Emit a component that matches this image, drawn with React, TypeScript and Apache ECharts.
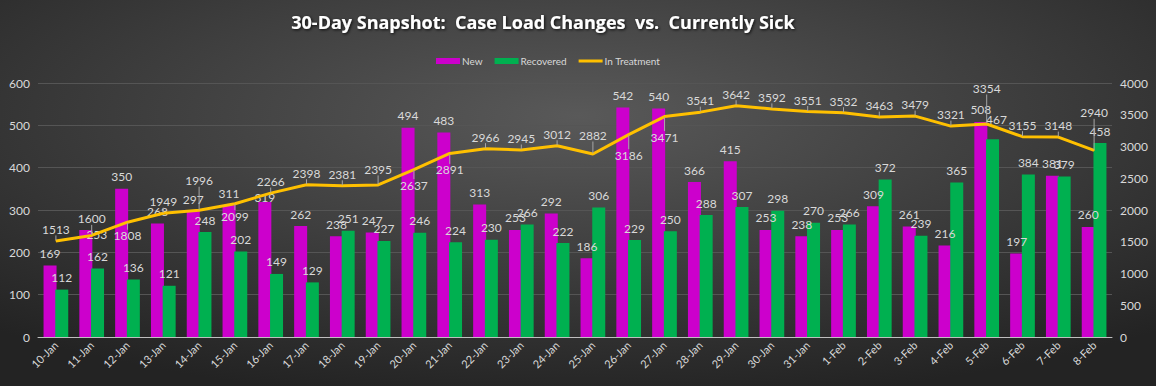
import React, { useEffect, useRef } from "react";
import * as echarts from "echarts";

const dates = [
  "10-Jan","11-Jan","12-Jan","13-Jan","14-Jan","15-Jan","16-Jan","17-Jan","18-Jan","19-Jan",
  "20-Jan","21-Jan","22-Jan","23-Jan","24-Jan","25-Jan","26-Jan","27-Jan","28-Jan","29-Jan",
  "30-Jan","31-Jan","1-Feb","2-Feb","3-Feb","4-Feb","5-Feb","6-Feb","7-Feb","8-Feb",
];
const newCases = [169,253,350,268,297,311,319,262,238,247,494,483,313,253,292,186,542,540,366,415,253,238,253,309,261,216,508,197,381,260];
const recovered = [112,162,136,121,248,202,149,129,251,227,246,224,230,266,222,306,229,250,288,307,298,270,266,372,239,365,467,384,379,458];
const inTreatment = [1513,1600,1808,1949,1996,2099,2266,2398,2381,2395,2637,2891,2966,2945,3012,2882,3186,3471,3541,3642,3592,3551,3532,3463,3479,3321,3354,3155,3148,2940];

// label placement for the line (index -> [position, distance])
const lineLabelPlacement: Record<number, [string, number]> = {
  1: ["top", 10],
  2: ["bottom", 7],
  5: ["bottom", 6],
  9: ["top", 9],
  10: ["bottom", 9],
  11: ["bottom", 10],
  15: ["top", 12],
  16: ["bottom", 14],
  17: ["bottom", 14],
};
// labels pulled further away with a leader line (index -> dy)
const lineLabelLeader: Record<number, number> = { 4: -18, 26: -24, 29: -26 };
// bar label nudges (index -> [dx, dy])
const newLabelNudge: Record<number, [number, number]> = { 1: [11, 17], 6: [0, 8] };
const recLabelNudge: Record<number, [number, number]> = { 26: [4, -8] };

const LABEL_COLOR = "#d9d9d9";
const FONT = "Lato, 'Open Sans', sans-serif";

const barData = (vals: number[], nudges: Record<number, [number, number]>) =>
  vals.map((v, i) => (nudges[i] ? { value: v, label: { offset: nudges[i] } } : v));

export default function App() {
  const ref = useRef<HTMLDivElement>(null);
  useEffect(() => {
    if (!ref.current) return;
    const chart = echarts.init(ref.current, undefined, { renderer: "svg" });
    chart.setOption({
      animation: false,
      backgroundColor: {
        type: "radial",
        x: 0.5,
        y: 0.3,
        r: 0.75,
        colorStops: [
          { offset: 0, color: "#595959" },
          { offset: 1, color: "#232323" },
        ],
      },
      title: {
        text: "30-Day Snapshot:  Case Load Changes  vs.  Currently Sick",
        left: 538,
        textAlign: "center",
        top: 8,
        textStyle: {
          color: "#ffffff",
          fontFamily: "'Open Sans', sans-serif",
          fontWeight: "bold",
          fontSize: 18,
          textShadowColor: "rgba(0,0,0,0.85)",
          textShadowBlur: 3,
          textShadowOffsetX: 1,
          textShadowOffsetY: 1,
        },
      },
      legend: {
        top: 51,
        left: 431,
        itemWidth: 24,
        itemHeight: 6,
        itemGap: 12,
        textStyle: { color: LABEL_COLOR, fontFamily: FONT, fontSize: 10, padding: [0, 0, 0, -3] },
        data: [
          { name: "New", icon: "rect" },
          { name: "Recovered", icon: "rect" },
          { name: "In Treatment", icon: "path://M0,0 h24 v3 h-24 z" },
        ],
      },
      grid: { left: 38, right: 44, top: 83, bottom: 49 },
      xAxis: {
        type: "category",
        data: dates,
        axisLine: { lineStyle: { color: "#bfbfbf", width: 1 } },
        axisTick: { show: false },
        axisLabel: {
          color: LABEL_COLOR,
          fontFamily: FONT,
          fontSize: 11,
          rotate: 45,
          interval: 0,
          margin: 6,
        },
      },
      yAxis: [
        {
          type: "value",
          min: 0,
          max: 600,
          interval: 100,
          axisLabel: { color: LABEL_COLOR, fontFamily: FONT, fontSize: 12, margin: 8 },
          splitLine: { lineStyle: { color: "#555555", width: 1 } },
          axisLine: { show: false },
        },
        {
          type: "value",
          min: 0,
          max: 4000,
          interval: 500,
          axisLabel: {
            color: LABEL_COLOR,
            fontFamily: FONT,
            fontSize: 12,
            margin: 8,
            formatter: (v: number) => String(v),
          },
          splitLine: { show: false },
          axisLine: { show: false },
        },
      ],
      series: [
        {
          name: "New",
          type: "bar",
          data: barData(newCases, newLabelNudge),
          barWidth: 13,
          barGap: "-10%",
          itemStyle: { color: "#cc00cc" },
          label: {
            show: true,
            position: "top",
            distance: 6,
            color: LABEL_COLOR,
            fontFamily: FONT,
            fontSize: 12,
          },
        },
        {
          name: "Recovered",
          type: "bar",
          data: barData(recovered, recLabelNudge),
          barWidth: 13,
          itemStyle: { color: "#00b050" },
          label: {
            show: true,
            position: "top",
            distance: 6,
            color: LABEL_COLOR,
            fontFamily: FONT,
            fontSize: 12,
          },
        },
        {
          name: "In Treatment",
          type: "line",
          yAxisIndex: 1,
          data: inTreatment.map((v, i) => {
            const p = lineLabelPlacement[i];
            return p ? { value: v, label: { position: p[0], distance: p[1] } } : v;
          }),
          symbol: "circle",
          symbolSize: 1,
          showSymbol: true,
          lineStyle: { color: "#ffc000", width: 3 },
          itemStyle: { color: "#ffc000" },
          label: {
            show: true,
            position: "top",
            distance: 5,
            color: LABEL_COLOR,
            fontFamily: FONT,
            fontSize: 12,
          },
          labelLine: { show: true, lineStyle: { color: "#a6a6a6", width: 1 } },
          labelLayout: (p: any) => {
            const dy = lineLabelLeader[p.dataIndex];
            return dy ? { dy } : {};
          },
          z: 5,
        },
      ],
    });
    return () => chart.dispose();
  }, []);
  return (
    <div
      ref={ref}
      style={{ position: "absolute", left: 0, top: 0, width: 1156, height: 386 }}
    />
  );
}
